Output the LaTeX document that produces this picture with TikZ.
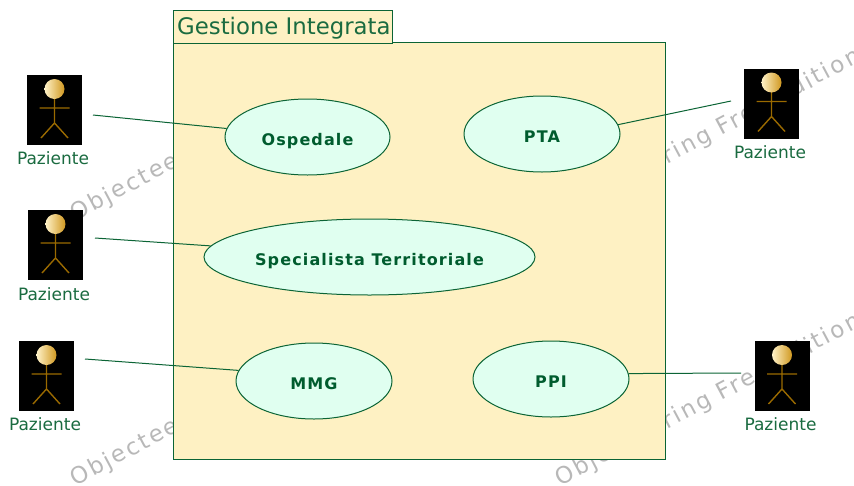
\documentclass[tikz,border=0pt]{standalone}
\usepackage{fontspec}
\usetikzlibrary{shapes.geometric}
\setmainfont{DejaVu Sans}
\newfontfamily\casefont[LetterSpace=7]{DejaVu Sans Bold}
\newfontfamily\markfont[LetterSpace=10]{DejaVu Sans}
\definecolor{linegreen}{HTML}{0B6435}
\definecolor{textgreen}{HTML}{1A6B40}
\definecolor{boldgreen}{HTML}{005C2E}
\definecolor{boxfill}{HTML}{FEF1C3}
\definecolor{usefill}{HTML}{E0FFF0}
\definecolor{limb}{HTML}{9A6A00}
\definecolor{headl}{HTML}{FFF2C8}
\definecolor{headm}{HTML}{FFFBE8}
\definecolor{headr}{HTML}{D09820}
\tikzset{
  x=1pt,y=-1pt,
  usecase/.style={ellipse,draw=linegreen,fill=usefill,line width=1pt,inner sep=0pt,minimum width=#1,minimum height=76pt,font=\casefont\fontsize{16}{18}\selectfont,text=boldgreen},
  assoc/.style={draw=linegreen,line width=1pt},
  actorbox/.style={fill=black,draw=none,minimum width=55pt,minimum height=70pt,inner sep=0pt},
  actorlabel/.style={font=\fontsize{17}{19}\selectfont,text=textgreen,inner sep=0pt},
  wmark/.style={font=\markfont\fontsize{23}{25}\selectfont,text=black!28,rotate=28,anchor=west,inner sep=0pt},
  limbline/.style={draw=limb,line width=1.4pt},
}
\newcommand{\actorfig}[4]{% name, center x, center y, label offset
  \node[actorbox] (#1) at (#2,#3) {};
  \begin{scope}[shift={(#2,#3)}]
    \draw[limbline] (0,-22) -- (0,13) (-15,-2) -- (15,-2) (-13.5,28) -- (0,13) -- (13.5,28);
    \shade[left color=headl,middle color=headm,right color=headr] (0,-21) circle [radius=10pt];
  \end{scope}
  \node[actorlabel] (#1label) at (#2-1.5,#3+#4) {Paziente};
}
\newcommand{\ucname}[1]{\raisebox{-8.5pt}[0pt][0pt]{#1}}
\begin{document}
\begin{tikzpicture}
\useasboundingbox (0,0) rectangle (854,485);
\fill[white] (0,0) rectangle (854,485);
% watermarks
\node[wmark] (w1) at (72,216) {Objecteering Free Edition};
\node[wmark] (w2) at (72,481) {Objecteering Free Edition};
\node[wmark] (w3) at (557,216) {Objecteering Free Edition};
\node[wmark] (w4) at (557,481) {Objecteering Free Edition};
% package
\path[draw=linegreen,fill=boxfill,line width=1pt] (173,42) rectangle (665,459);
\node[draw=linegreen,fill=boxfill,line width=1pt,anchor=north west,minimum width=219pt,minimum height=33pt,inner sep=0pt] (tab) at (173,10) {};
\node[anchor=west,inner sep=0pt,font=\fontsize{22.8}{25}\selectfont,text=textgreen] (title) at (177,28) {Gestione Integrata};
% use cases
\node[usecase=165pt] (osp) at (307.5,137) {\ucname{Ospedale}};
\node[usecase=156pt] (pta) at (542,134) {\ucname{PTA}};
\node[usecase=331pt] (spec) at (369.5,257) {\ucname{Specialista Territoriale}};
\node[usecase=156pt] (mmg) at (314,381) {\ucname{MMG}};
\node[usecase=156pt] (ppi) at (551,379) {\ucname{PPI}};
% actors
\actorfig{a1}{54.5}{110}{48}
\actorfig{a2}{55.5}{245}{49}
\actorfig{a3}{46.5}{376}{48}
\actorfig{a4}{771.5}{103.5}{48.5}
\actorfig{a5}{782}{376}{48}
% connectors
\coordinate (c1) at (93,115);
\coordinate (c2) at (95,238);
\coordinate (c3) at (85,359);
\coordinate (c4) at (731,101);
\coordinate (c5) at (741,373);
\draw[assoc] (c1) -- (osp.174.5);
\draw[assoc] (c2) -- (spec.176.9);
\draw[assoc] (c3) -- (mmg.172);
\draw[assoc] (pta.7) -- (c4);
\draw[assoc] (ppi.4) -- (c5);
\end{tikzpicture}
\end{document}
